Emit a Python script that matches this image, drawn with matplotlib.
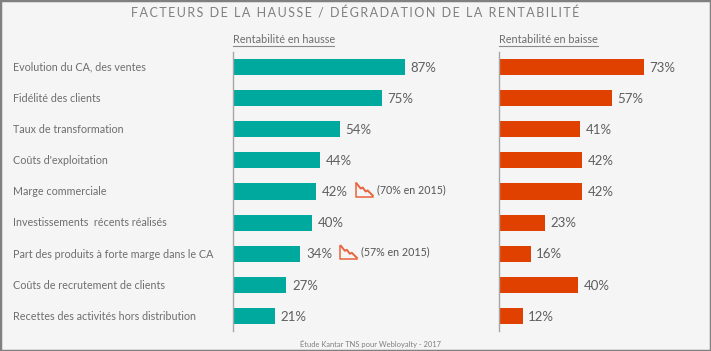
import matplotlib.pyplot as plt
from matplotlib.patches import Rectangle

plt.rcParams['font.family'] = ['Lato', 'DejaVu Sans']

# Data
categories = ['Evolution du CA, des ventes', 'Fidélité des clients', 'Taux de transformation',
              "Coûts d'exploitation", 'Marge commerciale', 'Investissements  récents réalisés',
              'Part des produits à forte marge dans le CA', 'Coûts de recrutement de clients',
              'Recettes des activités hors distribution']
hausse = [87, 75, 54, 44, 42, 40, 34, 27, 21]
baisse = [73, 57, 41, 42, 42, 23, 16, 40, 12]
notes = {4: '(70% en 2015)', 6: '(57% en 2015)'}
title = 'FACTEURS DE LA HAUSSE / DÉGRADATION DE LA RENTABILITÉ'

W, H = 711, 351
BG = '#f5f5f5'
TEAL = '#00a99d'
ORANGE = '#e04000'
TEXT = '#6e6e6e'

fig = plt.figure(figsize=(W / 100, H / 100), dpi=100, facecolor=BG)


def fx(px):
    return px / W


def fy(py):
    return 1 - py / H


# Outer frame of the screenshot
fig.add_artist(Rectangle((0, 0), 1, 1, transform=fig.transFigure, fill=False,
                         edgecolor='#808080', linewidth=2.5))

# One axes per panel, 100% = 198 px
ax1 = fig.add_axes([fx(233), fy(331), fx(198), 279 / H])
ax2 = fig.add_axes([fx(499), fy(331), fx(198), 279 / H])

for ax, values, color in [(ax1, hausse, TEAL), (ax2, baisse, ORANGE)]:
    ax.barh(range(len(values)), values, height=0.52, color=color)
    ax.set_xlim(0, 100)
    ax.set_ylim(8.48, -0.48)
    ax.patch.set_visible(False)
    ax.set_xticks([])
    ax.set_yticks([])
    for side in ['top', 'right', 'bottom']:
        ax.spines[side].set_visible(False)
    ax.spines['left'].set_color('#a6a6a6')
    ax.spines['left'].set_linewidth(1)
    for i, v in enumerate(values):
        ax.annotate(f'{v}%', (v, i), xytext=(4, -0.5), textcoords='offset points',
                    va='center', ha='left', fontsize=9.5, color='#5f5f5f')

# Category labels sit left of the first panel
for i, cat in enumerate(categories):
    ax1.annotate(cat, (0, i), xycoords=('axes fraction', 'data'), xytext=(13, -0.2),
                 textcoords=('figure pixels', 'offset points'), va='center', ha='left',
                 fontsize=7.75, color=TEXT)

# Down-trend icon and the 2015 reminder next to two bars
trend_x = [1, 5, 7, 10, 12, 17]
trend_y = [0, 5, 4, 8, 7, 12]
for i, note in notes.items():
    bar_x, bar_y = ax1.transData.transform((hausse[i], i))
    x0 = bar_x + 39.5
    y0 = H - bar_y - 8
    fig.add_artist(plt.Line2D([fx(x0), fx(x0), fx(x0 + 17)],
                              [fy(y0), fy(y0 + 13), fy(y0 + 13)],
                              color='#e8643c', linewidth=1.1))
    fig.add_artist(plt.Line2D([fx(x0 + a) for a in trend_x],
                              [fy(y0 + b) for b in trend_y],
                              color='#e8643c', linewidth=1.4))
    fig.text(fx(x0 + 21), fy(y0 + 6), note, fontsize=7.7, color='#555555',
             va='center', ha='left')

# Titles, the main one is letter-spaced with hair spaces
fig.text(fx(355), fy(13), '\u200a\u200a'.join(title), fontsize=9, color='#7f7f7f',
         ha='center', va='center')
for x, label, width in [(233, 'Rentabilité en hausse', 101), (499, 'Rentabilité en baisse', 99)]:
    fig.text(fx(x), fy(39.5), label, fontsize=7.85, color=TEXT, ha='left', va='center')
    fig.add_artist(plt.Line2D([fx(x), fx(x + width)], [fy(45.5), fy(45.5)],
                              color='#8a8a8a', linewidth=0.8))
fig.text(fx(371), fy(344), 'Étude Kantar TNS pour Webloyalty - 2017', fontsize=5.4,
         color='#7f7f7f', ha='center', va='center')

fig.savefig('out.png', dpi=100, facecolor=BG)
